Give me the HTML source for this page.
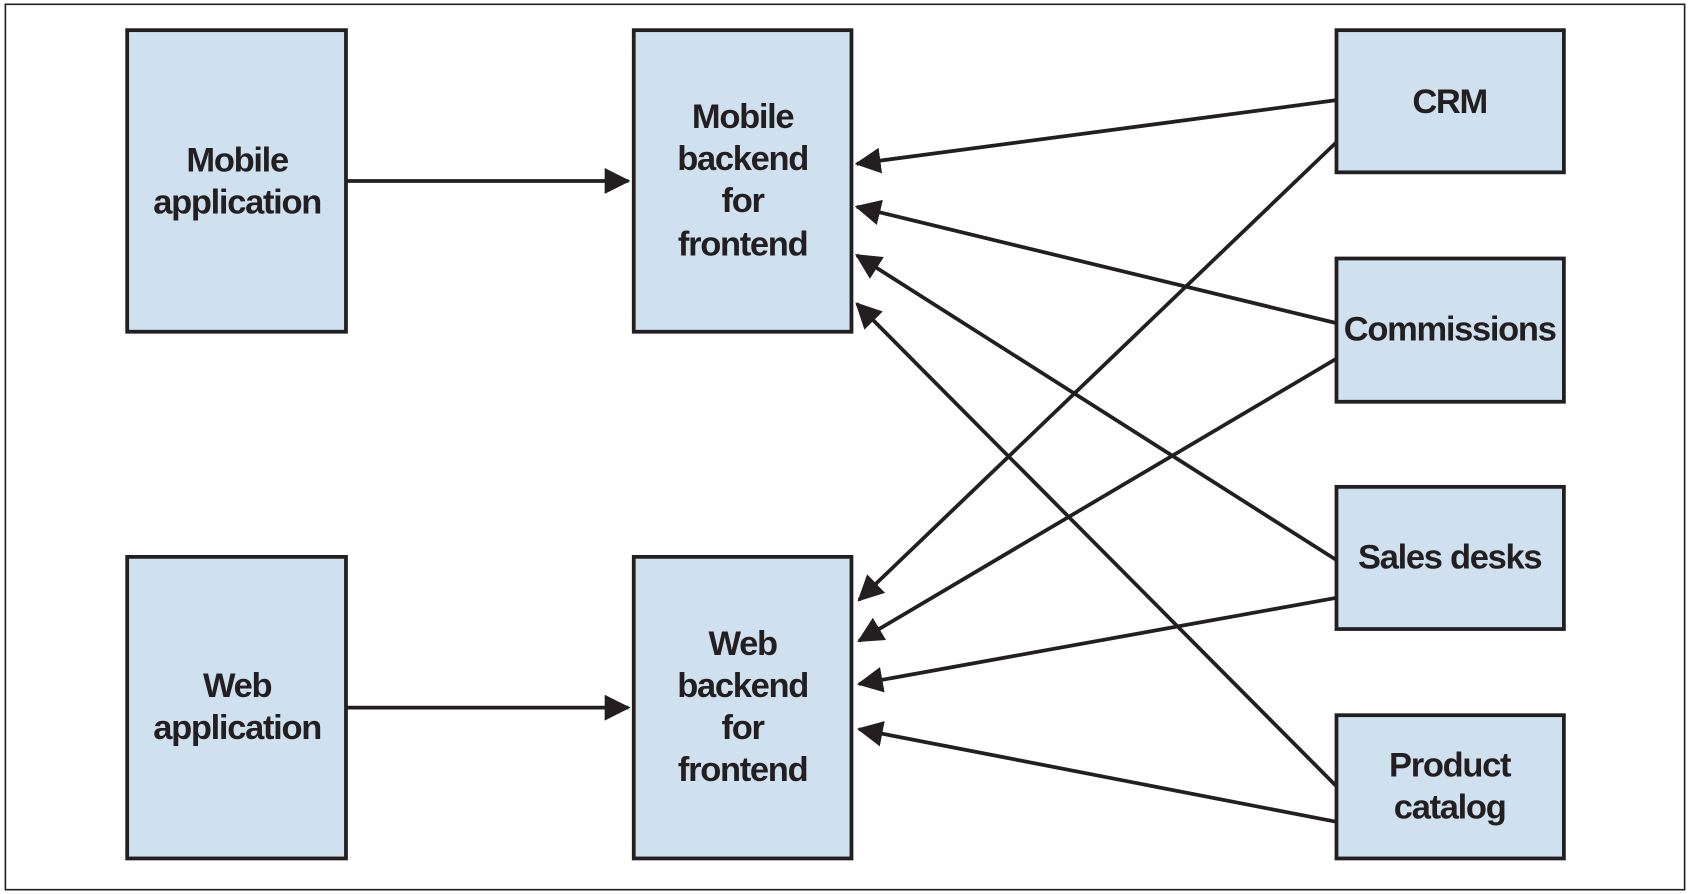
<!DOCTYPE html>
<html><head><style>html,body{margin:0;padding:0;background:#fff}svg{display:block}</style></head>
<body>
<svg width="1690" height="894" viewBox="0 0 1568 830" preserveAspectRatio="none" xmlns="http://www.w3.org/2000/svg">
<defs>
<marker id="h" viewBox="0 0 24 24" refX="22" refY="12" markerWidth="24" markerHeight="24" markerUnits="userSpaceOnUse" orient="auto">
<path d="M0,0 L24,12 L0,24 Z" fill="#231f20"/>
</marker>
</defs>
<rect x="5" y="4" width="1558" height="822" fill="#fff" stroke="#231f20" stroke-width="1.5"/>
<g fill="#cfe0ef" stroke="#231f20" stroke-width="3.5">
<rect x="118" y="28" width="203" height="280"/>
<rect x="588" y="28" width="202" height="280"/>
<rect x="118" y="517" width="203" height="280"/>
<rect x="588" y="517" width="202" height="280"/>
<rect x="1240" y="28" width="211" height="132"/>
<rect x="1240" y="240" width="211" height="133"/>
<rect x="1240" y="452" width="211" height="132"/>
<rect x="1240" y="664" width="211" height="133"/>
</g>
<g stroke="#231f20" stroke-width="3.5" marker-end="url(#h)" fill="none">
<line x1="321" y1="168" x2="583" y2="168"/>
<line x1="321" y1="657" x2="583" y2="657"/>
<line x1="1240" y1="93" x2="795" y2="152"/>
<line x1="1240" y1="300" x2="795" y2="192"/>
<line x1="1240" y1="520" x2="795" y2="237"/>
<line x1="1240" y1="730" x2="795" y2="282"/>
<line x1="1240" y1="132" x2="797" y2="557"/>
<line x1="1240" y1="333" x2="797" y2="595"/>
<line x1="1240" y1="555" x2="797" y2="635"/>
<line x1="1240" y1="763" x2="797" y2="677"/>
</g>
<g font-family="Liberation Sans, sans-serif" font-size="32" font-weight="bold" letter-spacing="-1.2" fill="#231f20" text-anchor="middle">
<text x="220" y="159">Mobile</text><text x="220" y="198">application</text>
<text x="689" y="119">Mobile</text><text x="689" y="158">backend</text><text x="689" y="197">for</text><text x="689" y="237">frontend</text>
<text x="220" y="647">Web</text><text x="220" y="686">application</text>
<text x="689" y="608">Web</text><text x="689" y="647">backend</text><text x="689" y="686">for</text><text x="689" y="725">frontend</text>
<text x="1345" y="105">CRM</text>
<text x="1345" y="316">Commissions</text>
<text x="1345" y="528">Sales desks</text>
<text x="1345" y="721">Product</text><text x="1345" y="760">catalog</text>
</g>
</svg>
</body></html>
